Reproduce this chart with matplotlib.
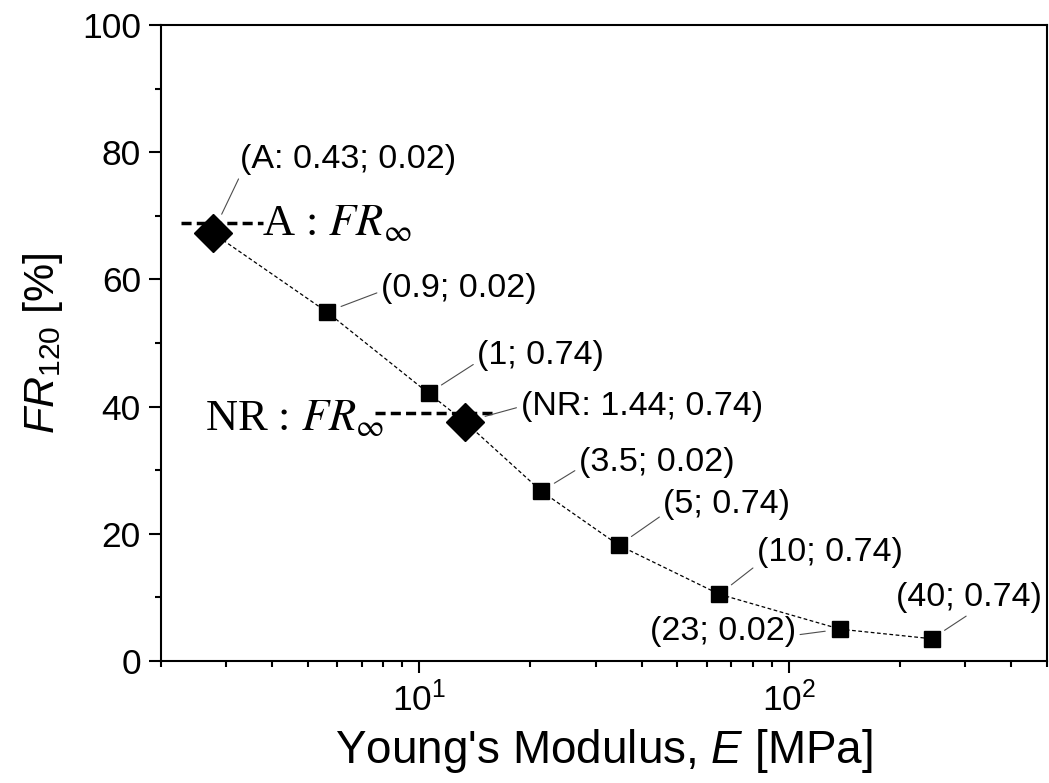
import numpy as np
import matplotlib
matplotlib.use("Agg")
import matplotlib.pyplot as plt

plt.rcParams['font.family'] = ['Liberation Sans', 'DejaVu Sans']
plt.rcParams['mathtext.fontset'] = 'custom'
plt.rcParams['mathtext.rm'] = 'Liberation Sans'
plt.rcParams['mathtext.it'] = 'Liberation Sans:italic'

# squares: (E [MPa], FR_120 [%])
sq_E = [5.62, 10.6, 21.4, 34.7, 64.9, 138, 244]
sq_FR = [54.9, 42.1, 26.7, 18.2, 10.5, 5.0, 3.5]
sq_labels = ["(0.9; 0.02)", "(1; 0.74)", "(3.5; 0.02)", "(5; 0.74)",
             "(10; 0.74)", "(23; 0.02)", "(40; 0.74)"]

# diamonds: A and NR
dm_E = [2.76, 13.3]
dm_FR = [67.3, 37.6]
dm_labels = ["(A: 0.43; 0.02)", "(NR: 1.44; 0.74)"]

# FR_inf levels (dashed horizontal markers)
frinf_A = 68.9
frinf_A_E = [2.26, 3.78]
frinf_NR = 39.0
frinf_NR_E = [7.57, 15.9]

fig = plt.figure(figsize=(10.49, 7.83), dpi=100)
ax = fig.add_axes([0.1535, 0.1558, 0.8445, 0.8122])

# connecting dashed line through all points
all_E = np.array(sq_E + dm_E)
all_FR = np.array(sq_FR + dm_FR)
order = np.argsort(all_E)
ax.plot(all_E[order], all_FR[order], color='black', lw=0.9,
        linestyle=(0, (3, 2)), zorder=2)

ax.plot(sq_E, sq_FR, 's', color='black', markersize=11.5, zorder=3)
ax.plot(dm_E, dm_FR, 'D', color='black', markersize=19, zorder=3)

ax.plot(frinf_A_E, [frinf_A, frinf_A], color='black', lw=2.5,
        linestyle=(0, (2.9, 1.5)), zorder=2)
ax.plot(frinf_NR_E, [frinf_NR, frinf_NR], color='black', lw=2.5,
        linestyle=(0, (2.9, 1.5)), zorder=2)

ax.text(3.75, 67.0, r"A : $FR_{\infty}$", family='Liberation Serif',
        math_fontfamily='stix', fontsize=32, va='baseline', ha='left')
ax.text(8.05, 36.3, r"NR : $FR_{\infty}$", family='Liberation Serif',
        math_fontfamily='stix', fontsize=32, va='baseline', ha='right')

# label offsets (points), alignment, leader start on the text box
sq_off = [(39, 17), (35, 27), (27, 21), (32, 29), (27, 30), (-32, -2), (-26, 30)]
sq_ha = ['left', 'left', 'left', 'left', 'left', 'right', 'left']
sq_rel = [(0, 0.4), (0, 0.3), (0, 0.3), (0, 0.2), (0, 0.1), (1, 0.4), (0.52, 0)]
dm_off = [(20, 53), (40, 11)]
dm_rel = [(0, 0), (0, 0.5)]

for E, FR, lab, off, ha, rel in zip(sq_E, sq_FR, sq_labels, sq_off, sq_ha, sq_rel):
    ax.annotate(lab, (E, FR), xytext=off, textcoords='offset points',
                ha=ha, va='center', fontsize=24.5,
                arrowprops=dict(arrowstyle='-', color='0.3', lw=0.8,
                                shrinkA=1, shrinkB=11, relpos=rel))
for E, FR, lab, off, rel in zip(dm_E, dm_FR, dm_labels, dm_off, dm_rel):
    ax.annotate(lab, (E, FR), xytext=off, textcoords='offset points',
                ha='left', va='center', fontsize=24.5,
                arrowprops=dict(arrowstyle='-', color='0.3', lw=0.8,
                                shrinkA=1, shrinkB=15, relpos=rel))

ax.set_xscale('log')
ax.set_xlim(2, 500)
ax.set_ylim(0, 100)
ax.set_yticks([0, 20, 40, 60, 80, 100])
ax.set_yticks([10, 30, 50, 70, 90], minor=True)

for s in ax.spines.values():
    s.set_linewidth(1.5)
ax.tick_params(which='major', length=8.5, width=1.5, labelsize=25.5, pad=6)
ax.tick_params(which='minor', length=4.5, width=1.5)
ax.tick_params(axis='y', which='major', pad=6)

ax.set_xlabel(r"Young's Modulus, $\mathit{E}$ [MPa]", fontsize=33, labelpad=7)
ax.set_ylabel(r"$\mathit{FR}_{\mathit{120}}$ [%]", fontsize=31, labelpad=12)

fig.savefig("out.png", dpi=100)
